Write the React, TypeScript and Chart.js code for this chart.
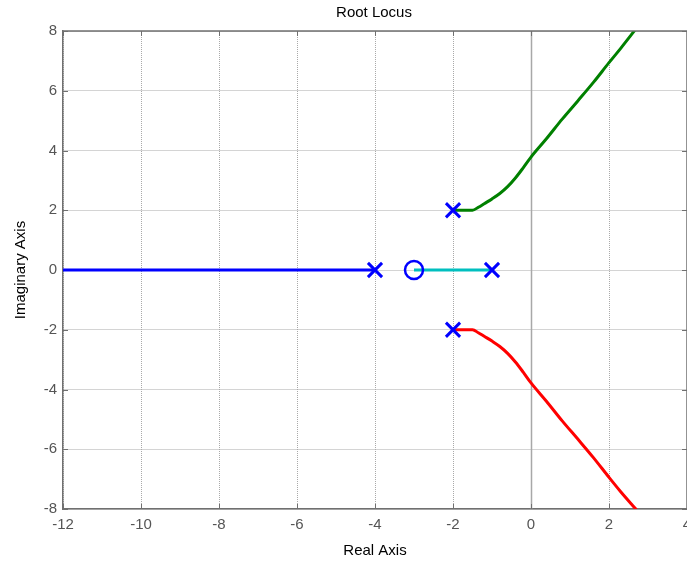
import React, { useEffect, useRef } from "react";
import { Chart, registerables } from "chart.js";

Chart.register(...registerables);

// Root locus branches (real, imaginary)
const blueBranchX = [-13, -4];
const blueBranchY = [0, 0];
const cyanBranchX = [-3, -1];
const cyanBranchY = [0, 0];
const greenBranchX = [-2, -1.5, -1.35, -1.2, -1.0, -0.8, -0.6, -0.4, -0.2, 0, 0.4, 0.8, 1.2, 1.6, 2.0, 2.3, 2.66];
const greenBranchY = [2, 2, 2.1, 2.22, 2.38, 2.56, 2.79, 3.08, 3.42, 3.78, 4.4, 5.05, 5.66, 6.28, 6.94, 7.42, 8.02];
const redBranchX = [-2, -1.5, -1.35, -1.2, -1.0, -0.8, -0.6, -0.4, -0.2, 0, 0.4, 0.8, 1.2, 1.6, 2.0, 2.3, 2.7];
const redBranchY = [-2, -2, -2.1, -2.22, -2.38, -2.56, -2.79, -3.08, -3.42, -3.78, -4.4, -5.05, -5.66, -6.28, -6.94, -7.42, -8.02];

// Poles and zeros
const polesX = [-4, -1, -2, -2];
const polesY = [0, 0, 2, -2];
const zerosX = [-3];
const zerosY = [0];

// Axes
const xMin = -12;
const xMax = 4;
const yMin = -8;
const yMax = 8;
const tickStep = 2;

const titleText = "Root Locus";
const xLabel = "Real Axis";
const yLabel = "Imaginary Axis";

const pts = (xs: number[], ys: number[]) => xs.map((x, i) => ({ x, y: ys[i] }));

const FONT = "Arial, 'Liberation Sans', Helvetica, sans-serif";

const decorPlugin = {
  id: "matlabDecor",
  beforeDatasetsDraw(chart: any) {
    const { ctx, chartArea, scales } = chart;
    const { left, right, top, bottom } = chartArea;
    ctx.save();
    // solid x=0 grid line
    const x0 = Math.round(scales.x.getPixelForValue(0)) + 0.5;
    ctx.strokeStyle = "#a8a8a8";
    ctx.lineWidth = 1.5;
    ctx.beginPath();
    ctx.moveTo(x0, top);
    ctx.lineTo(x0, bottom);
    ctx.stroke();
    // inner ticks
    ctx.strokeStyle = "#707070";
    ctx.lineWidth = 1;
    const tl = 5;
    for (let v = xMin; v <= xMax; v += tickStep) {
      const px = Math.round(scales.x.getPixelForValue(v)) + 0.5;
      ctx.beginPath();
      ctx.moveTo(px, bottom);
      ctx.lineTo(px, bottom - tl);
      ctx.moveTo(px, top);
      ctx.lineTo(px, top + tl);
      ctx.stroke();
    }
    for (let v = yMin; v <= yMax; v += tickStep) {
      const py = Math.round(scales.y.getPixelForValue(v)) + 0.5;
      ctx.beginPath();
      ctx.moveTo(left, py);
      ctx.lineTo(left + tl, py);
      ctx.moveTo(right, py);
      ctx.lineTo(right - tl, py);
      ctx.stroke();
    }
    ctx.restore();
  },
  afterDraw(chart: any) {
    const { ctx, chartArea } = chart;
    const { left, right, top, bottom } = chartArea;
    ctx.save();
    // top and right border
    ctx.strokeStyle = "#707070";
    ctx.lineWidth = 1.5;
    ctx.beginPath();
    ctx.moveTo(left, top);
    ctx.lineTo(right, top);
    ctx.lineTo(right, bottom);
    ctx.stroke();
    // titles
    ctx.fillStyle = "#000";
    ctx.font = `15px ${FONT}`;
    ctx.textAlign = "center";
    ctx.textBaseline = "middle";
    ctx.fillText(titleText, 374, 13);
    ctx.fillText(xLabel, 375, 551);
    ctx.translate(21, (top + bottom) / 2);
    ctx.rotate(-Math.PI / 2);
    ctx.fillText(yLabel, 0, 0);
    ctx.restore();
  },
};

export default function App() {
  const ref = useRef<HTMLCanvasElement | null>(null);

  useEffect(() => {
    if (!ref.current) return;
    const lineDs = (label: string, xs: number[], ys: number[], color: string, smooth: boolean) => ({
      type: "line" as const,
      label,
      data: pts(xs, ys),
      borderColor: color,
      backgroundColor: color,
      borderWidth: 3,
      pointRadius: 0,
      showLine: true,
      fill: false,
      tension: 0,
      cubicInterpolationMode: smooth ? "monotone" : "default",
      order: 2,
    });
    const chart = new Chart(ref.current, {
      type: "scatter",
      data: {
        datasets: [
          {
            type: "scatter",
            label: "Poles",
            data: pts(polesX, polesY),
            pointStyle: "crossRot",
            pointRadius: 10,
            borderColor: "#0000ff",
            backgroundColor: "#0000ff",
            pointBorderWidth: 3,
            borderWidth: 3,
            order: 0,
          } as any,
          {
            type: "scatter",
            label: "Zeros",
            data: pts(zerosX, zerosY),
            pointStyle: "circle",
            pointRadius: 9,
            borderColor: "#0000ff",
            backgroundColor: "rgba(0,0,0,0)",
            pointBorderWidth: 2.5,
            borderWidth: 2.5,
            order: 0,
          } as any,
          lineDs("Branch 1", blueBranchX, blueBranchY, "#0000ff", false),
          lineDs("Branch 2", cyanBranchX, cyanBranchY, "#00bfbf", false),
          lineDs("Branch 3", greenBranchX, greenBranchY, "#008000", true),
          lineDs("Branch 4", redBranchX, redBranchY, "#ff0000", true),
        ] as any,
      },
      options: {
        animation: false,
        responsive: true,
        maintainAspectRatio: false,
        layout: { autoPadding: false, padding: { top: 31, right: -3, bottom: 0, left: 0 } },
        plugins: {
          legend: { display: false },
          title: { display: false },
          tooltip: { enabled: false },
        },
        scales: {
          x: {
            type: "linear",
            min: xMin,
            max: xMax,
            ticks: {
              stepSize: tickStep,
              color: "#555555",
              font: { size: 15, family: FONT },
              padding: 7,
              maxRotation: 0,
              autoSkip: false,
            },
            grid: { color: "#a9a9a9", lineWidth: 1, drawTicks: false },
            border: { display: true, color: "#707070", width: 1.5, dash: [1, 1] },
            afterFit: (s: any) => {
              s.height = 53;
              s.paddingLeft = 0;
              s.paddingRight = 0;
            },
          },
          y: {
            type: "linear",
            min: yMin,
            max: yMax,
            ticks: {
              stepSize: tickStep,
              color: "#555555",
              font: { size: 15, family: FONT },
              padding: 6,
              autoSkip: false,
            },
            grid: { color: "#a9a9a9", lineWidth: 1, drawTicks: false },
            border: { display: true, color: "#707070", width: 1.5, dash: [1, 1] },
            afterFit: (s: any) => {
              s.width = 63;
              s.paddingTop = 0;
              s.paddingBottom = 0;
            },
          },
        },
      } as any,
      plugins: [decorPlugin],
    });
    return () => chart.destroy();
  }, []);

  return (
    <div style={{ position: "fixed", left: 0, top: 0, width: 687, height: 562, background: "#fff", overflow: "hidden" }}>
      <canvas ref={ref} />
    </div>
  );
}
